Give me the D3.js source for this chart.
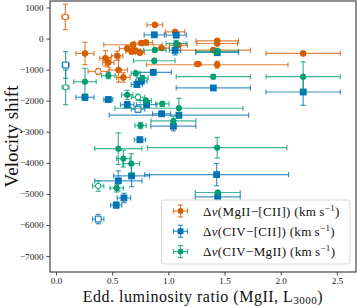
<!DOCTYPE html>
<html>
<head>
<meta charset="utf-8">
<script src="https://cdn.jsdelivr.net/npm/d3@7"></script>
<style>
  body { margin: 0; background: #fff; }
  svg { display: block; font-family: "Liberation Serif", "DejaVu Serif", serif; }
</style>
</head>
<body>
<svg id="chart"></svg>
<script>
const width = 357;
const height = 307;

// x tick values and y tick values
const xTicks = [0, 0.5, 1.0, 1.5, 2.0, 2.5];
const yTicks = [-7000, -6000, -5000, -4000, -3000, -2000, -1000, 0, 1000];

// Δv(MgII−[CII])
const mgX    = [0.083, 0.88, 1.06, 1.435, 1.435, 1.40, 2.20, 1.263, 1.435, 0.258, 0.44, 0.466, 0.545, 0.557, 0.376, 0.60, 0.634, 0.673, 0.71, 0.762, 0.80, 0.94, 1.09, 0.685, 0.747];
const mgY    = [695, 440, 215, -75, -160, -372, -480, -820, -843, -480, -635, -770, -555, -1013, -1060, -1250, -320, -417, -394, -148, -128, -308, -212, -200, -450];
const mgXerr = [0.03, 0.07, 0.086, 0.19, 0.18, 0.33, 0.33, 0.03, 0.63, 0.08, 0.05, 0.05, 0.05, 0.08, 0.09, 0.06, 0.07, 0.05, 0.04, 0.06, 0.06, 0.07, 0.08, 0.26, 0.04];
const mgYerr = [410, 50, 50, 60, 60, 60, 50, 40, 110, 360, 250, 150, 150, 390, 100, 150, 80, 80, 80, 60, 60, 60, 60, 60, 80];
const mgOpen = [0, 14];

// Δv(CIV−[CII])
const cciX    = [0.086, 0.258, 0.466, 0.634, 0.73, 0.875, 1.07, 0.866, 0.72, 0.76, 0.807, 0.94, 1.094, 1.045, 0.747, 1.43, 0.673, 0.555, 0.605, 0.536, 0.376, 1.44, 1.40, 2.20, 1.435, 1.06];
const cciY    = [-853, -1890, -1965, -2130, -2275, 119, 109, -1090, -1480, -1370, -2125, -2423, -2467, -2820, -3257, -4380, -4420, -4580, -5130, -5360, -5810, -5095, -1590, -1720, -448, -380];
const cciXerr = [0.03, 0.08, 0.04, 0.06, 0.06, 0.09, 0.09, 0.16, 0.05, 0.05, 0.09, 0.08, 0.62, 0.2, 0.05, 0.64, 0.16, 0.21, 0.06, 0.05, 0.05, 0.2, 0.33, 0.33, 0.19, 0.05];
const cciYerr = [430, 100, 80, 100, 100, 60, 60, 60, 80, 80, 80, 80, 80, 150, 80, 360, 350, 320, 150, 100, 150, 100, 60, 430, 100, 150];
const cciOpen = [0, 4, 20];

// Δv(CIV−MgII)
const cmX    = [0.086, 0.258, 0.466, 0.71, 0.77, 0.875, 0.88, 1.07, 1.435, 1.40, 2.20, 1.094, 1.045, 1.435, 0.634, 0.73, 0.80, 0.946, 0.753, 0.555, 0.60, 0.67, 0.376, 0.54, 1.44];
const cmY    = [-1570, -1390, -1195, -1120, -1270, -715, -372, -160, -416, -1228, -1228, -2243, -2650, -3513, -1815, -1890, -1997, -2103, -2800, -3545, -3865, -4025, -4745, -4810, -4955];
const cmXerr = [0.03, 0.1, 0.06, 0.04, 0.05, 0.185, 0.1, 0.09, 0.19, 0.33, 0.33, 0.57, 0.2, 0.62, 0.05, 0.06, 0.05, 0.06, 0.05, 0.21, 0.06, 0.075, 0.05, 0.06, 0.2];
const cmYerr = [560, 430, 100, 80, 80, 80, 60, 100, 100, 70, 480, 320, 150, 330, 150, 100, 80, 80, 100, 510, 270, 320, 170, 130, 60];
const cmOpen = [0, 15, 22];

const seriesNames = ["MgII\u2212[CII]", "CIV\u2212[CII]", "CIV\u2212MgII"];
const seriesColors = ["#d55e00", "#0173b2", "#029e73"];

const margin = {left: 50, right: 1, top: 1, bottom: 35};

const svg = d3.select('#chart')
  .attr('width', width)
  .attr('height', height);

const x = d3.scaleLinear()
  .domain([-0.053, 2.67])
  .range([margin.left, width - margin.right]);

const y = d3.scaleLinear()
  .domain([-7513, 1208])
  .range([height - margin.bottom, margin.top]);

// axes
const xAxis = svg.append('g')
  .attr('transform', `translate(0,${height - margin.bottom})`)
  .call(d3.axisBottom(x).tickValues(xTicks).tickFormat(d3.format('.1f')).tickSize(3.5).tickPadding(1.5));

const yAxis = svg.append('g')
  .attr('transform', `translate(${margin.left},0)`)
  .call(d3.axisLeft(y).tickValues(yTicks).tickFormat(d => d < 0 ? '\u2212' + Math.abs(d) : d).tickSize(3.5).tickPadding(3));

[xAxis, yAxis].forEach(a => {
  a.select('.domain').remove();
  a.selectAll('line').attr('stroke', '#333').attr('stroke-width', 0.9);
  a.selectAll('text').attr('fill', '#222').style('font-size', '9.2px')
    .style('font-family', '"Liberation Serif", serif');
});

// frame
svg.append('rect')
  .attr('x', margin.left)
  .attr('y', margin.top)
  .attr('width', width - margin.left - margin.right)
  .attr('height', height - margin.top - margin.bottom)
  .attr('fill', 'none')
  .attr('stroke', '#333')
  .attr('stroke-width', 1.1);

const plot = svg.append('g');

function drawSeries(xs, ys, xe, ye, open, color, shape) {
  const data = xs.map((v, i) => ({x: v, y: ys[i], xe: xe[i], ye: ye[i], open: open.includes(i)}));
  const g = plot.append('g');
  const cap = 2.6;
  const eb = g.append('g')
    .attr('stroke', color)
    .attr('stroke-width', 1.2)
    .attr('stroke-opacity', 0.75);
  data.forEach(d => {
    const cx = x(d.x), cy = y(d.y);
    const x0 = x(d.x - d.xe), x1 = x(d.x + d.xe);
    const y0 = y(d.y - d.ye), y1 = y(d.y + d.ye);
    eb.append('line').attr('x1', x0).attr('x2', x1).attr('y1', cy).attr('y2', cy);
    eb.append('line').attr('x1', cx).attr('x2', cx).attr('y1', y0).attr('y2', y1);
    eb.append('line').attr('x1', x0).attr('x2', x0).attr('y1', cy - cap).attr('y2', cy + cap);
    eb.append('line').attr('x1', x1).attr('x2', x1).attr('y1', cy - cap).attr('y2', cy + cap);
    eb.append('line').attr('x1', cx - cap).attr('x2', cx + cap).attr('y1', y0).attr('y2', y0);
    eb.append('line').attr('x1', cx - cap).attr('x2', cx + cap).attr('y1', y1).attr('y2', y1);
  });
  data.forEach(d => {
    const cx = x(d.x), cy = y(d.y);
    if (shape === 'square') {
      g.append('rect')
        .attr('x', cx - 2.9).attr('y', cy - 2.9)
        .attr('width', 5.8).attr('height', 5.8)
        .attr('fill', d.open ? '#fff' : color)
        .attr('stroke', color).attr('stroke-width', 1);
    } else {
      g.append('circle')
        .attr('cx', cx).attr('cy', cy)
        .attr('r', shape === 'small' ? 2.7 : 2.9)
        .attr('fill', d.open ? '#fff' : color)
        .attr('stroke', color).attr('stroke-width', 1);
    }
  });
}

drawSeries(mgX, mgY, mgXerr, mgYerr, mgOpen, seriesColors[0], 'circle');
drawSeries(cciX, cciY, cciXerr, cciYerr, cciOpen, seriesColors[1], 'square');
drawSeries(cmX, cmY, cmXerr, cmYerr, cmOpen, seriesColors[2], 'small');

// legend
const lg = svg.append('g');
lg.append('rect')
  .attr('x', 161.5).attr('y', 200)
  .attr('width', 188.5).attr('height', 64)
  .attr('rx', 2.5)
  .attr('fill', '#fff').attr('fill-opacity', 0.8)
  .attr('stroke', '#d8d8d8').attr('stroke-width', 1);

const shapes = ['circle', 'square', 'small'];
seriesNames.forEach((name, i) => {
  const ly = 211 + i * 20.3;
  const lx = 180.5;
  const c = seriesColors[i];
  const h = lg.append('g').attr('stroke', c).attr('stroke-width', 1.2).attr('stroke-opacity', 0.75);
  h.append('line').attr('x1', lx - 7).attr('x2', lx + 7).attr('y1', ly).attr('y2', ly);
  h.append('line').attr('x1', lx).attr('x2', lx).attr('y1', ly - 6).attr('y2', ly + 6);
  h.append('line').attr('x1', lx - 7).attr('x2', lx - 7).attr('y1', ly - 2.6).attr('y2', ly + 2.6);
  h.append('line').attr('x1', lx + 7).attr('x2', lx + 7).attr('y1', ly - 2.6).attr('y2', ly + 2.6);
  h.append('line').attr('x1', lx - 2.6).attr('x2', lx + 2.6).attr('y1', ly - 6).attr('y2', ly - 6);
  h.append('line').attr('x1', lx - 2.6).attr('x2', lx + 2.6).attr('y1', ly + 6).attr('y2', ly + 6);
  if (shapes[i] === 'square') {
    lg.append('rect').attr('x', lx - 2.9).attr('y', ly - 2.9).attr('width', 5.8).attr('height', 5.8).attr('fill', c);
  } else {
    lg.append('circle').attr('cx', lx).attr('cy', ly).attr('r', 2.9).attr('fill', c);
  }
  const t = lg.append('text')
    .attr('x', 203)
    .attr('y', ly + 4.5)
    .attr('fill', '#111')
    .style('font-size', '13px')
    .style('letter-spacing', '0.35px');
  t.append('tspan').text('\u0394');
  t.append('tspan').style('font-style', 'italic').text('v');
  t.append('tspan').text('(' + name + ') (km\u2009s');
  t.append('tspan').attr('dy', -5).style('font-size', '9px').text('\u22121');
  t.append('tspan').attr('dy', 5).text(')');
});

// axis labels
const xl = svg.append('text')
  .attr('x', 203)
  .attr('y', 302)
  .attr('text-anchor', 'middle')
  .attr('fill', '#111')
  .style('font-size', '16px')
  .style('letter-spacing', '0.5px');
xl.append('tspan').text('Edd. luminosity ratio (MgII, L');
xl.append('tspan').attr('dy', 2).style('font-size', '11px').text('3000');
xl.append('tspan').attr('dy', -2).text(')');

svg.append('text')
  .attr('transform', `translate(18,${(margin.top + height - margin.bottom) / 2}) rotate(-90)`)
  .attr('text-anchor', 'middle')
  .attr('fill', '#111')
  .style('font-size', '19px')
  .text('Velocity shift');
</script>
</body>
</html>
